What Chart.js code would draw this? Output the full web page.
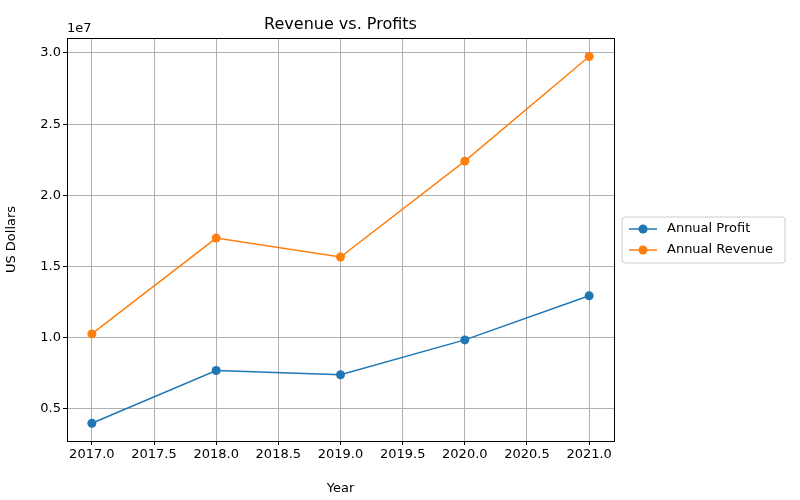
<!DOCTYPE html>
<html><head><meta charset="utf-8">
<script src="https://cdn.jsdelivr.net/npm/chart.js@4/dist/chart.umd.min.js"></script>
<style>body{margin:0;background:#fff}#wrap{width:800px;height:500px}</style>
</head><body><div id="wrap"><canvas id="c"></canvas></div>
<script>
const years = [2017, 2018, 2019, 2020, 2021];
const profit = [4.0e6, 7.7e6, 7.4e6, 9.85e6, 12.95e6];
const revenue = [10.27e6, 17.0e6, 15.67e6, 22.4e6, 29.75e6];
const FONT = "'DejaVu Sans', sans-serif";

const extras = {
  id: 'extras',
  afterDraw(chart) {
    const { ctx, chartArea: a } = chart;
    ctx.save();
    ctx.fillStyle = '#000';
    ctx.font = '16px ' + FONT;
    ctx.textAlign = 'center';
    ctx.textBaseline = 'bottom';
    ctx.fillText('Revenue vs. Profits', (a.left + a.right) / 2, a.top - 5);
    ctx.font = '13px ' + FONT;
    ctx.textAlign = 'left';
    ctx.fillText('1e7', a.left, a.top - 3);
    ctx.strokeStyle = '#000'; ctx.lineWidth = 1;
    ctx.strokeRect(a.left + 0.5, a.top + 0.5, a.right - a.left, a.bottom - a.top);
    // legend
    const lx = 622, ly = 217, lw = 163, lh = 46;
    ctx.strokeStyle = '#ccc';
    ctx.fillStyle = '#fff';
    ctx.beginPath(); ctx.roundRect(lx, ly, lw, lh, 3); ctx.fill(); ctx.stroke();
    const items = [['Annual Profit', '#1f77b4'], ['Annual Revenue', '#ff7f0e']];
    items.forEach(([t, c], i) => {
      const y = ly + 12 + i * 21;
      ctx.strokeStyle = c; ctx.lineWidth = 1.5;
      ctx.beginPath(); ctx.moveTo(lx + 7, y); ctx.lineTo(lx + 35, y); ctx.stroke();
      ctx.fillStyle = c;
      ctx.beginPath(); ctx.arc(lx + 21, y, 4.5, 0, Math.PI * 2); ctx.fill();
      ctx.fillStyle = '#000'; ctx.textBaseline = 'middle';
      ctx.fillText(t, lx + 45, y);
    });
    ctx.restore();
  }
};

new Chart(document.getElementById('c'), {
  type: 'line',
  data: {
    datasets: [
      { label: 'Annual Profit', data: years.map((x, i) => ({ x, y: profit[i] })),
        borderColor: '#1f77b4', backgroundColor: '#1f77b4', borderWidth: 1.5,
        pointRadius: 4.5, pointBorderWidth: 0, tension: 0 },
      { label: 'Annual Revenue', data: years.map((x, i) => ({ x, y: revenue[i] })),
        borderColor: '#ff7f0e', backgroundColor: '#ff7f0e', borderWidth: 1.5,
        pointRadius: 4.5, pointBorderWidth: 0, tension: 0 }
    ]
  },
  options: {
    responsive: true, maintainAspectRatio: false, animation: false,
    layout: { padding: { top: 38, right: 186, left: 0, bottom: 0 } },
    plugins: { legend: { display: false }, tooltip: { enabled: false } },
    scales: {
      x: {
        type: 'linear', min: 2016.8, max: 2021.2,
        afterBuildTicks: s => { s.ticks = [2017, 2017.5, 2018, 2018.5, 2019, 2019.5, 2020, 2020.5, 2021].map(v => ({ value: v })); },
        afterFit: s => { s.height = 59; },
        grid: { color: '#b0b0b0', tickColor: '#000', tickLength: 4 },
        border: { display: false },
        ticks: { color: '#000', font: { family: FONT, size: 13 }, maxRotation: 0, padding: 2,
          callback: v => v.toFixed(1) },
        title: { display: true, text: 'Year', color: '#000', font: { family: FONT, size: 13 }, padding: { top: 2 } }
      },
      y: {
        min: 2.75e6, max: 31.05e6,
        afterBuildTicks: s => { s.ticks = [0.5, 1, 1.5, 2, 2.5, 3].map(v => ({ value: v * 1e7 })); },
        afterFit: s => { s.width = 67; },
        grid: { color: '#b0b0b0', tickColor: '#000', tickLength: 4 },
        border: { display: false },
        ticks: { color: '#000', font: { family: FONT, size: 13 }, padding: 2,
          callback: v => (v / 1e7).toFixed(1) },
        title: { display: true, text: 'US Dollars', color: '#000', font: { family: FONT, size: 13 }, padding: { bottom: 2 } }
      }
    }
  },
  plugins: [extras]
});
</script></body></html>
